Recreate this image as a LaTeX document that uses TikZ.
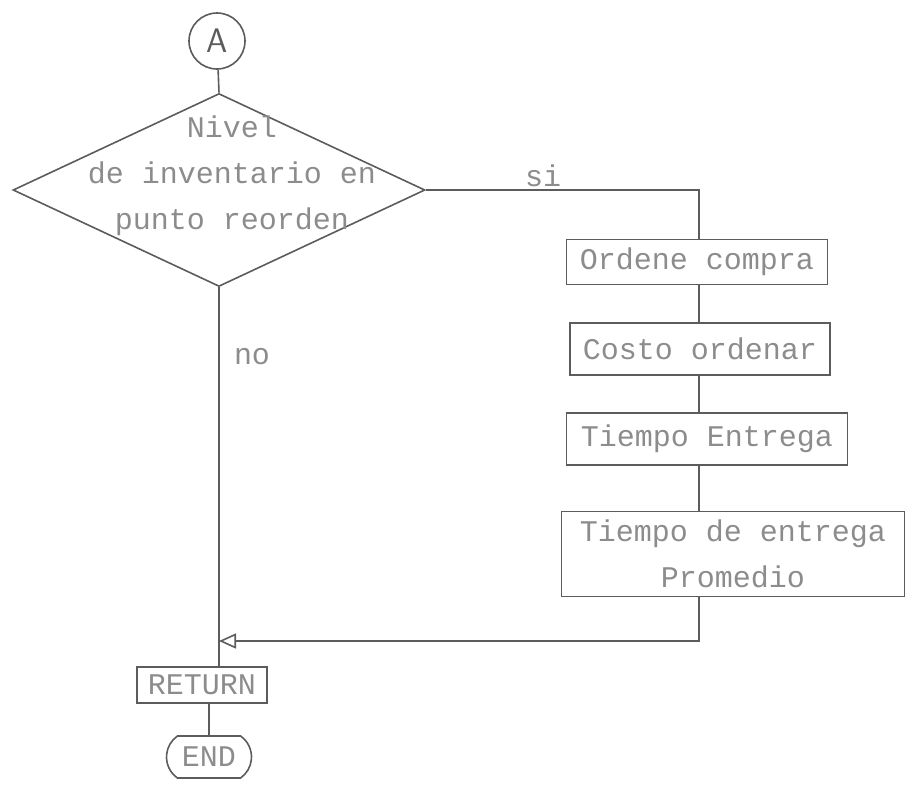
\documentclass[tikz,border=0pt]{standalone}
\usepackage{fontspec}
\setmonofont{Liberation Mono}
\usepackage{tikz}
\usetikzlibrary{positioning}
\usetikzlibrary{shapes.geometric,shapes.misc,arrows.meta}
\definecolor{linegray}{gray}{0.36}
\definecolor{textgray}{gray}{0.55}
\tikzset{
  fcnode/.style = {align=center, inner sep=0pt, text centered,
    font=\ttfamily\fontsize{30}{46}\selectfont, text=textgray},
  fc_box/.style = {fcnode, rectangle, draw=linegray,
    line width=1.4pt},% caja de proceso
  fc_dec/.style = {fcnode, diamond, draw=linegray,
    line width=1.6pt},% rombo de decision
  fc_con/.style = {fcnode, circle, draw=linegray, line width=1.6pt,
    minimum size=56pt, font=\sffamily\fontsize{34}{34}\selectfont,
    text=linegray},% conector
  fc_end/.style = {fcnode, rounded rectangle, draw=linegray,
    rounded rectangle arc length=110, line width=1.6pt},% terminal
  fc_lbl/.style = {fcnode}% etiqueta si / no
}

\begin{document}
\begin{tikzpicture}[x=1pt,y=-1pt,linegray,line width=1.6pt]
\useasboundingbox (0,0) rectangle (921,788);
\node [fc_con] (conA) at (217,41) {A};
\node [fc_dec, minimum width=412pt, minimum height=193pt] (lvl) at (219,190) {};
\node [fcnode] (lvltxt) at (232,176) {Nivel\\de inventario en\\punto reorden};
\node [fc_box, minimum width=261pt, minimum height=45pt] (ordene) at (697,262) {Ordene compra};
\node [fc_box, minimum width=260pt, minimum height=52pt] (costo) at (700,349) {Costo ordenar};
\node [fc_box, minimum width=281pt, minimum height=52pt] (entrega) at (707,439) {Tiempo Entrega};
\node [fc_box, minimum width=343pt, minimum height=85pt] (promedio) at (733,554)
  {Tiempo de entrega\\Promedio};
\node [fc_box, minimum width=130pt, minimum height=36pt] (ret) at (202,685) {RETURN};
\node [fc_end, minimum width=85pt, minimum height=42pt] (fin) at (209,757) {END};
\node [fc_lbl] (si) at (543,176) {si};
\node [fc_lbl] (no) at (252,357) {no};
\coordinate (spine) at (699,0);
\coordinate (join) at (lvl.south |- 0,641);
% conexiones
\draw (conA) -- (lvl.north);
\draw (lvl.east) -| (spine |- ordene.north);
\draw (spine |- ordene.south) -- (spine |- costo.north);
\draw (spine |- costo.south) -- (spine |- entrega.north);
\draw (spine |- entrega.south) -- (spine |- promedio.north);
\draw [-{Triangle[open,length=17pt,width=15pt]}] (spine |- promedio.south) |- (join);
\draw (lvl.south) -- (lvl.south |- ret.north);
\draw (fin.north |- ret.south) -- (fin.north);
\end{tikzpicture}
\end{document}
